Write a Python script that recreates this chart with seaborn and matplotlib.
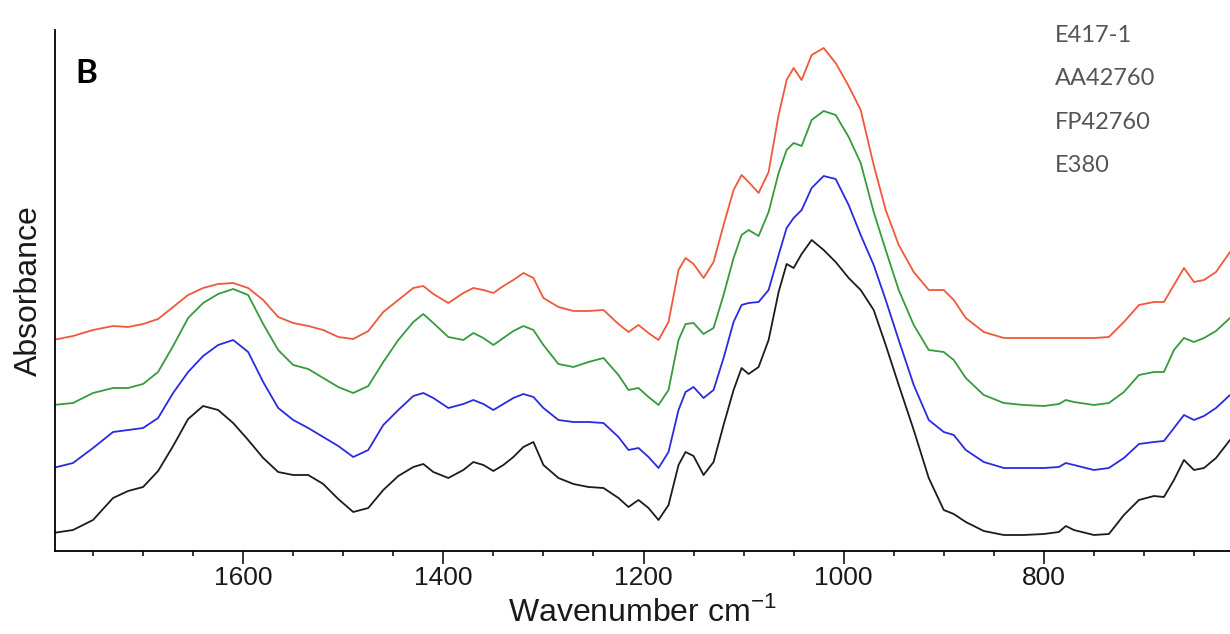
import numpy as np
import pandas as pd
import matplotlib
matplotlib.use("Agg")
import matplotlib.pyplot as plt
from matplotlib.ticker import MultipleLocator
import seaborn as sns

# FTIR spectra, absorbance in arbitrary units (stacked with offsets as in the figure)
wavenumber = [
    1790, 1770, 1750, 1730, 1715, 1700, 1685, 1670, 1655, 1640,
    1625, 1610, 1595, 1580, 1565, 1550, 1535, 1520, 1505, 1490,
    1475, 1460, 1445, 1430, 1420, 1410, 1395, 1380, 1370, 1360,
    1350, 1340, 1330, 1320, 1310, 1300, 1285, 1270, 1255, 1240,
    1225, 1215, 1205, 1195, 1185, 1175, 1165, 1158, 1150, 1140,
    1130, 1120, 1110, 1102, 1095, 1085, 1075, 1065, 1057, 1050,
    1042, 1032, 1020, 1008, 995, 983, 970, 958, 945, 930,
    915, 900, 890, 878, 860, 840, 820, 800, 785, 778,
    770, 750, 735, 720, 705, 690, 680, 670, 660, 650,
    640, 628, 614,
]

e417_1 = [
    211, 215, 221, 225, 224, 227, 232, 244, 256, 263,
    267, 268, 263, 251, 234, 228, 225, 221, 214, 212,
    220, 239, 251, 263, 265, 257, 248, 258, 263, 261,
    258, 265, 271, 278, 273, 253, 244, 240, 240, 241,
    227, 219, 226, 218, 211, 229, 281, 293, 287, 273,
    289, 326, 361, 376, 369, 358, 379, 436, 471, 483,
    471, 496, 503, 488, 465, 441, 386, 341, 306, 279,
    261, 261, 251, 233, 219, 213, 213, 213, 213, 213,
    213, 213, 214, 229, 246, 249, 249, 266, 283, 269,
    271, 279, 299,
]

aa42760 = [
    146, 148, 158, 163, 163, 167, 179, 205, 233, 248,
    257, 262, 256, 227, 201, 186, 182, 173, 164, 158,
    165, 189, 211, 229, 237, 228, 214, 211, 218, 213,
    206, 213, 220, 225, 221, 206, 187, 184, 189, 193,
    176, 161, 163, 154, 146, 161, 211, 227, 228, 217,
    223, 256, 293, 316, 321, 315, 339, 378, 401, 408,
    405, 431, 440, 436, 414, 388, 339, 301, 261, 226,
    201, 199, 191, 173, 156, 148, 146, 145, 147, 151,
    149, 146, 148, 159, 176, 179, 179, 201, 213, 209,
    213, 220, 233,
]

fp42760 = [
    83, 88, 103, 119, 121, 123, 133, 158, 179, 195,
    206, 211, 199, 169, 143, 131, 123, 114, 105, 94,
    101, 126, 141, 155, 158, 153, 143, 147, 151, 147,
    141, 147, 153, 157, 154, 143, 131, 129, 129, 128,
    114, 101, 103, 94, 83, 99, 141, 159, 164, 153,
    161, 193, 229, 246, 248, 249, 261, 296, 323, 333,
    341, 363, 375, 372, 346, 316, 286, 251, 211, 166,
    131, 119, 116, 101, 89, 83, 83, 83, 84, 88,
    86, 81, 83, 93, 107, 109, 110, 123, 136, 131,
    135, 143, 156,
]

e380 = [
    18, 21, 31, 53, 60, 64, 80, 105, 132, 145,
    141, 128, 111, 93, 79, 76, 76, 67, 52, 39,
    43, 61, 75, 84, 87, 79, 73, 81, 89, 86,
    80, 86, 94, 104, 109, 86, 73, 67, 64, 63,
    53, 44, 51, 43, 31, 46, 86, 99, 95, 76,
    89, 126, 161, 183, 177, 184, 211, 259, 287, 283,
    297, 311, 301, 289, 273, 261, 241, 206, 166, 121,
    73, 41, 37, 29, 20, 16, 16, 17, 19, 25,
    21, 16, 17, 36, 51, 55, 54, 71, 91, 81,
    83, 93, 111,
]

samples = ["E417-1", "AA42760", "FP42760", "E380"]
colors = {
    "E417-1": "#f0583a",
    "AA42760": "#379a3c",
    "FP42760": "#2a2ae0",
    "E380": "#1c1c1c",
}

frames = []
for name, values in zip(samples, [e417_1, aa42760, fp42760, e380]):
    frames.append(pd.DataFrame({"wavenumber": wavenumber,
                                "absorbance": values,
                                "sample": name}))
df = pd.concat(frames, ignore_index=True)

sns.set_style("ticks")
plt.rcParams["font.family"] = ["Liberation Sans", "DejaVu Sans"]
plt.rcParams["axes.edgecolor"] = "black"
plt.rcParams["xtick.color"] = "black"
plt.rcParams["text.color"] = "#1a1a1a"
plt.rcParams["axes.labelcolor"] = "#1a1a1a"

fig = plt.figure(figsize=(12.3, 6.34), dpi=100)
ax = fig.add_axes([55 / 1230, 1 - 551 / 634, 1175 / 1230, 521 / 634])

sns.lineplot(data=df, x="wavenumber", y="absorbance", hue="sample",
             hue_order=samples, palette=colors, linewidth=1.3,
             solid_joinstyle="round", solid_capstyle="round",
             legend=False, ax=ax)

ax.set_xlim(1788, 614)
ax.set_ylim(0, 521)
ax.xaxis.set_major_locator(MultipleLocator(200))
ax.xaxis.set_minor_locator(MultipleLocator(50))
ax.tick_params(axis="x", which="major", length=9.5, width=1.1,
               labelsize=19, pad=1.5, direction="out", labelcolor="#1a1a1a")
ax.tick_params(axis="x", which="minor", length=3.5, width=1.1,
               direction="out")
ax.set_yticks([])
sns.despine(ax=ax)
for side in ["left", "bottom"]:
    ax.spines[side].set_linewidth(1.3)

ax.set_xlabel("Wavenumber cm$^{\\mathregular{-1}}$", fontsize=23, labelpad=4)
ax.set_ylabel("Absorbance", fontsize=23, labelpad=8)

ax.text(0.017, 0.898, "B", transform=ax.transAxes, fontsize=24,
        fontweight="bold", color="black", family=["Lato", "DejaVu Sans"],
        va="baseline")

# sample names, top to bottom in the same order as the traces
for i, name in enumerate(samples):
    fig.text(1055 / 1230, 1 - (42 + i * 43.3) / 634, name, fontsize=17,
             color="#555555", family=["Lato", "DejaVu Sans"], va="baseline")

fig.savefig("out.png", dpi=100)
